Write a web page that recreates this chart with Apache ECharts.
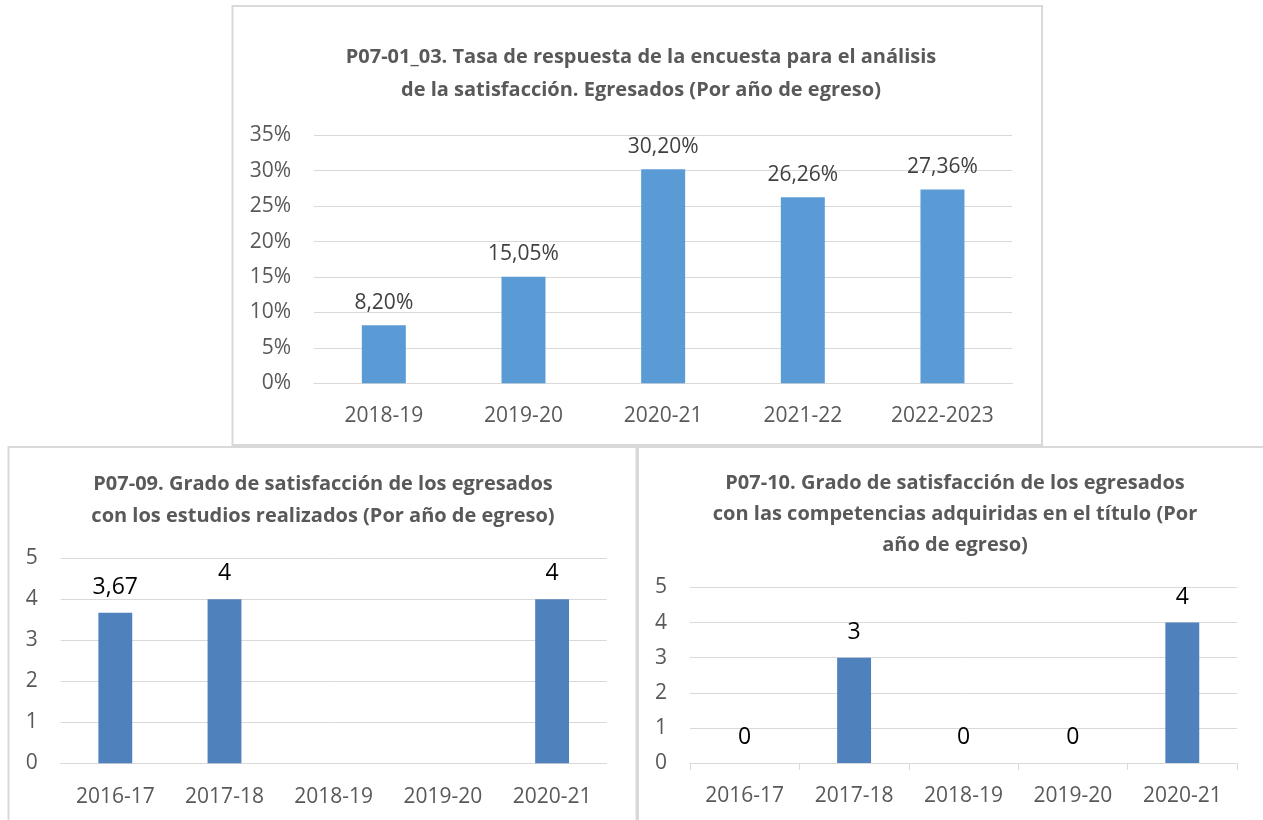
<!DOCTYPE html>
<html>
<head>
<meta charset="utf-8">
<script src="https://cdn.jsdelivr.net/npm/echarts@6/dist/echarts.min.js"></script>
<style>
  html, body { margin: 0; padding: 0; background: #ffffff; }
  #chart { width: 1263px; height: 820px; }
</style>
</head>
<body>
<div id="chart"></div>
<script>
// Tasa de respuesta (%), por año de egreso
const rateYears = ['2018-19', '2019-20', '2020-21', '2021-22', '2022-2023'];
const rateValues = [8.20, 15.05, 30.20, 26.26, 27.36];

// Grado de satisfacción con los estudios realizados
const studyYears = ['2016-17', '2017-18', '2018-19', '2019-20', '2020-21'];
const studyValues = [3.67, 4, null, null, 4];

// Grado de satisfacción con las competencias adquiridas
const skillYears = ['2016-17', '2017-18', '2018-19', '2019-20', '2020-21'];
const skillValues = [0, 3, 0, 0, 4];

const FONT = '"Open Sans", "Liberation Sans", sans-serif';
const GRID_COLOR = '#D9D9D9';
const AXIS_TEXT = '#595959';

const commaNum = v => String(v).replace('.', ',');

function titleBlock(text, x, y, lh) {
  return {
    text: text,
    left: x,
    top: y,
    textAlign: 'center',
    padding: 0,
    textStyle: {
      fontFamily: FONT, fontSize: 20, fontWeight: 'bold',
      color: AXIS_TEXT, lineHeight: lh
    }
  };
}

function catAxis(idx, data, ticks, margin) {
  return {
    type: 'category', gridIndex: idx, data: data,
    axisLine: { show: true, lineStyle: { color: GRID_COLOR, width: 1 } },
    axisTick: { show: ticks, length: 7, lineStyle: { color: GRID_COLOR } },
    axisLabel: { color: AXIS_TEXT, fontFamily: FONT, fontSize: 21, margin: margin }
  };
}

function valAxis(idx, max, interval, fmt) {
  return {
    type: 'value', gridIndex: idx, min: 0, max: max, interval: interval,
    axisLine: { show: false }, axisTick: { show: false },
    splitLine: { lineStyle: { color: GRID_COLOR, width: 1 } },
    axisLabel: { color: AXIS_TEXT, fontFamily: FONT, fontSize: 21, margin: 23, formatter: fmt }
  };
}

const chart = echarts.init(document.getElementById('chart'), null, { renderer: 'canvas' });

chart.setOption({
  backgroundColor: '#ffffff',
  animation: false,
  title: [
    titleBlock('P07-01_03. Tasa de respuesta de la encuesta para el análisis\nde la satisfacción. Egresados (Por año de egreso)', 641, 41, 33),
    titleBlock('P07-09. Grado de satisfacción de los egresados\ncon los estudios realizados (Por año de egreso)', 323, 468, 32),
    titleBlock('P07-10. Grado de satisfacción de los egresados\ncon las competencias adquiridas en el título (Por\naño de egreso)', 955, 468, 31)
  ],
  graphic: [
    { type: 'rect', shape: { x: 232.5, y: 6, width: 809.5, height: 439 },
      style: { fill: 'none', stroke: GRID_COLOR, lineWidth: 2 }, z: -1 },
    { type: 'rect', shape: { x: 8.5, y: 447, width: 628, height: 380 },
      style: { fill: 'none', stroke: GRID_COLOR, lineWidth: 2 }, z: -1 },
    { type: 'rect', shape: { x: 638, y: 447, width: 630, height: 380 },
      style: { fill: 'none', stroke: GRID_COLOR, lineWidth: 2 }, z: -1 }
  ],
  grid: [
    { left: 314, top: 135.3, width: 698.3, height: 248 },
    { left: 60.7, top: 558.3, width: 546, height: 205 },
    { left: 690, top: 587.5, width: 547, height: 175.5 }
  ],
  xAxis: [
    catAxis(0, rateYears, false, 22),
    catAxis(1, studyYears, false, 23),
    catAxis(2, skillYears, true, 23)
  ],
  yAxis: [
    valAxis(0, 35, 5, '{value}%'),
    valAxis(1, 5, 1, v => commaNum(v)),
    valAxis(2, 5, 1, v => commaNum(v))
  ],
  series: [
    {
      type: 'bar', xAxisIndex: 0, yAxisIndex: 0, data: rateValues,
      barWidth: '31.5%', itemStyle: { color: '#5B9BD5' },
      label: {
        show: true, position: 'top', distance: 12,
        color: '#404040', fontFamily: FONT, fontSize: 21,
        formatter: p => p.value.toFixed(2).replace('.', ',') + '%'
      }
    },
    {
      type: 'bar', xAxisIndex: 1, yAxisIndex: 1, data: studyValues,
      barWidth: '31%', itemStyle: { color: '#4F81BD' },
      label: {
        show: true, position: 'top', distance: 14,
        color: '#000000', fontFamily: FONT, fontSize: 23,
        formatter: p => commaNum(p.value)
      }
    },
    {
      type: 'bar', xAxisIndex: 2, yAxisIndex: 2, data: skillValues,
      barWidth: '31%', itemStyle: { color: '#4F81BD' },
      label: {
        show: true, position: 'top', distance: 14,
        color: '#000000', fontFamily: FONT, fontSize: 23,
        formatter: p => commaNum(p.value)
      }
    }
  ]
});
</script>
</body>
</html>
